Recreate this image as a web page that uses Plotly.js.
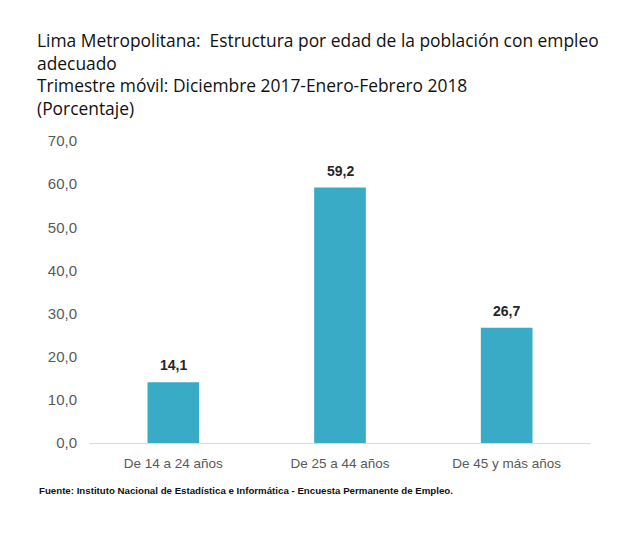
<!DOCTYPE html>
<html>
<head>
<meta charset="utf-8">
<script src="https://cdn.plot.ly/plotly-3.0.1.min.js"></script>
<style>html,body{margin:0;padding:0;background:#fff;}#chart{width:640px;height:537px;}</style>
</head>
<body>
<div id="chart"></div>
<script>
const categories = ["De 14 a 24 años", "De 25 a 44 años", "De 45 y más años"];
const values = [14.1, 59.2, 26.7];
const yTicks = [0, 10, 20, 30, 40, 50, 60, 70];

const fmt = v => v.toFixed(1).replace('.', ',');

const trace = {
  type: 'bar',
  x: categories,
  y: values,
  marker: {color: '#3AABC6'},
  hoverinfo: 'none'
};

const labelAnnotations = categories.map((c, i) => ({
  x: c, y: values[i], xref: 'x', yref: 'y',
  text: fmt(values[i]),
  showarrow: false,
  yanchor: 'bottom', yshift: 7,
  font: {family: 'Liberation Sans, Arial, sans-serif', size: 14, color: '#262626', weight: 'bold'}
}));

const layout = {
  width: 640, height: 537,
  margin: {l: 90, r: 50, t: 141, b: 94},
  paper_bgcolor: '#fff', plot_bgcolor: '#fff',
  bargap: 0.69,
  showlegend: false,
  title: {
    text: 'Lima Metropolitana:  Estructura por edad de la población con empleo<br>adecuado<br>Trimestre móvil: Diciembre 2017-Enero-Febrero 2018<br>(Porcentaje)',
    font: {family: 'Open Sans, Liberation Sans, sans-serif', size: 17.4, color: '#111'},
    xref: 'container', yref: 'container',
    x: 37/640, xanchor: 'left',
    y: 1 - 47/537, yanchor: 'top'
  },
  xaxis: {
    type: 'category',
    showgrid: false, zeroline: false,
    showline: true, linecolor: '#d9d9d9', linewidth: 1,
    ticks: '', ticklabelstandoff: 8,
    tickfont: {family: 'Liberation Sans, Arial, sans-serif', size: 13.5, color: '#595959'},
    fixedrange: true
  },
  yaxis: {
    range: [0, 70],
    tickvals: yTicks,
    ticktext: yTicks.map(fmt),
    showgrid: false, zeroline: false, showline: false,
    ticks: '', ticklabelstandoff: 12,
    tickfont: {family: 'Liberation Sans, Arial, sans-serif', size: 15, color: '#595959'},
    fixedrange: true
  },
  annotations: labelAnnotations.concat([{
    text: 'Fuente: Instituto Nacional de Estadística e Informática - Encuesta Permanente de Empleo.',
    xref: 'paper', yref: 'paper',
    x: (37-90)/500, y: -(490-443)/302,
    xanchor: 'left', yanchor: 'middle',
    showarrow: false,
    font: {family: 'Liberation Sans, Arial, sans-serif', size: 9.7, color: '#111', weight: 'bold'}
  }])
};

Plotly.newPlot('chart', [trace], layout, {displayModeBar: false, staticPlot: true});
</script>
</body>
</html>
